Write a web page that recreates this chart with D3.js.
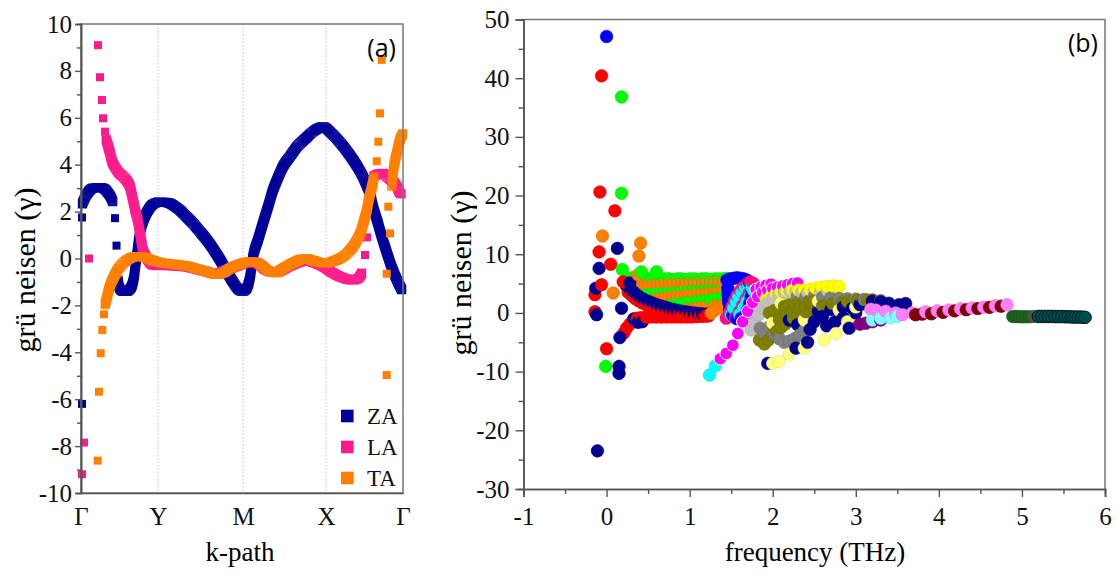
<!DOCTYPE html>
<html>
<head>
<meta charset="utf-8">
<script src="https://cdn.jsdelivr.net/npm/d3@7"></script>
<style>
  body { margin: 0; background: #fff; }
  svg { display: block; }
  .serif { font-family: "Liberation Serif", "Times New Roman", serif; }
</style>
</head>
<body>
<svg id="chart" width="1119" height="577"></svg>
<script>
// ---------- Panel (a): Grüneisen parameter along the k-path ----------
const kTickPos = [0, 0.77, 1.62, 2.45, 3.22];
const kTickLabels = ["Γ", "Y", "M", "X", "Γ"];
const gammaTicksA = [-10, -8, -6, -4, -2, 0, 2, 4, 6, 8, 10];
const branchNames = ["ZA", "LA", "TA"];
const branchColors = ["#000099", "#ff1a8c", "#ff8000"];

// ZA: continuous stretches [k, γ]
const zaArcGamma = [[0.01,2.3],[0.03,2.5],[0.06,2.75],[0.09,2.92],[0.12,3.0],[0.16,3.02],[0.20,3.02],[0.24,2.95],[0.27,2.8],[0.30,2.6],[0.32,2.4]];
const zaYM = [[0.37,-0.9],[0.38,-1.2],[0.40,-1.35],[0.43,-1.4],[0.46,-1.4],[0.49,-1.3],[0.51,-1.15],[0.53,-0.8],[0.545,-0.3],[0.56,0.2],[0.575,0.7],[0.59,1.1],[0.61,1.45],[0.64,1.8],[0.67,2.05],[0.71,2.28],[0.75,2.38],[0.79,2.42],[0.84,2.4],[0.89,2.35],[0.94,2.22],[0.99,2.06],[1.05,1.8],[1.12,1.5],[1.19,1.15],[1.26,0.78],[1.33,0.36],[1.39,-0.05],[1.45,-0.5],[1.52,-1.0],[1.57,-1.3],[1.62,-1.4],[1.66,-1.25],[1.69,-0.8],[1.72,0.08],[1.77,0.8],[1.82,1.51],[1.87,2.2],[1.92,2.92],[1.97,3.45],[2.02,3.92],[2.09,4.35],[2.16,4.77],[2.24,5.1],[2.32,5.41],[2.37,5.55],[2.42,5.62],[2.49,5.4],[2.59,4.95],[2.69,4.4],[2.76,3.95],[2.82,3.49],[2.87,3.0],[2.89,2.79],[2.92,2.2],[2.96,1.64],[3.01,0.9],[3.06,0.23],[3.11,-0.4],[3.16,-0.92],[3.21,-1.35]];
const zaSingles = [[0.01,1.75],[0.01,-6.2],[0.34,1.72],[0.355,0.55]];

// LA
const laGammaSide = [[0.25,5.1],[0.27,4.8],[0.29,4.5],[0.31,4.15],[0.34,3.9],[0.38,3.65],[0.42,3.5],[0.46,3.3],[0.49,3.06],[0.52,2.5],[0.545,2.0],[0.56,1.78],[0.59,1.08],[0.62,0.36],[0.67,-0.06],[0.72,-0.28],[0.78,-0.3],[0.85,-0.3],[0.95,-0.33],[1.05,-0.36],[1.15,-0.45],[1.25,-0.55],[1.35,-0.66],[1.45,-0.5],[1.55,-0.34],[1.65,-0.2],[1.75,-0.2],[1.85,-0.5],[1.95,-0.6],[2.05,-0.4],[2.15,-0.2],[2.25,-0.1],[2.35,-0.2],[2.45,-0.42],[2.52,-0.62],[2.59,-0.78],[2.66,-0.88],[2.72,-0.92],[2.78,-0.82],[2.81,-0.6]];
const laXGamma = [[2.92,3.49],[2.97,3.6],[3.02,3.63],[3.07,3.45],[3.12,3.28],[3.16,3.06],[3.19,2.79],[3.21,2.75]];
const laSingles = [[0.01,-9.2],[0.03,-7.85],[0.08,0.0],[0.17,9.1],[0.19,7.73],[0.21,6.76],[0.22,5.98],[0.24,5.41],[2.84,0.15],[2.86,0.9]];

// TA
const taMain = [[0.24,-2.0],[0.26,-1.65],[0.28,-1.3],[0.30,-1.05],[0.33,-0.78],[0.36,-0.52],[0.40,-0.3],[0.45,-0.1],[0.50,0.03],[0.55,0.08],[0.60,0.08],[0.65,0.02],[0.70,-0.06],[0.76,-0.14],[0.83,-0.2],[0.90,-0.23],[0.98,-0.27],[1.06,-0.32],[1.14,-0.42],[1.22,-0.52],[1.30,-0.62],[1.36,-0.68],[1.42,-0.62],[1.49,-0.42],[1.55,-0.3],[1.62,-0.2],[1.69,-0.13],[1.76,-0.16],[1.82,-0.35],[1.88,-0.55],[1.95,-0.6],[2.01,-0.45],[2.07,-0.3],[2.13,-0.16],[2.19,-0.05],[2.26,0.0],[2.31,-0.08],[2.37,-0.15],[2.43,-0.2],[2.49,-0.16],[2.56,-0.06],[2.62,0.08],[2.66,0.22],[2.71,0.45],[2.76,0.79],[2.80,1.15],[2.83,1.6],[2.86,2.1],[2.88,2.55],[2.91,3.06],[2.93,3.5]];
const taGammaEnd = [[3.107,3.06],[3.12,3.63],[3.157,4.48],[3.19,5.05],[3.22,5.34]];
const taSingles = [[0.167,-8.62],[0.18,-5.68],[0.197,-4.04],[0.213,-3.05],[0.23,-2.38],[3.007,8.47],[2.99,6.19],[2.973,4.98],[2.957,4.15],[3.073,2.21],[3.09,1.07],[3.057,-0.65],[3.057,-4.97]];

// ---------- Panel (b): Grüneisen parameter vs frequency [THz, γ] ----------
const freqTicks = [-1, 0, 1, 2, 3, 4, 5, 6];
const gammaTicksB = [-30, -20, -10, 0, 10, 20, 30, 40, 50];

const greenTop = [[0.30,6.0],[0.35,5.9],[0.40,5.9],[0.45,5.8],[0.50,5.8],[0.55,5.8],[0.60,5.9],[0.65,5.8],[0.70,5.8],[0.75,5.8],[0.80,5.7],[0.85,5.8],[0.90,5.8],[0.95,5.7],[1.00,5.8],[1.05,5.8],[1.10,5.7],[1.15,5.8],[1.20,5.8],[1.25,5.7],[1.30,5.8],[1.35,5.8],[1.40,5.8],[1.45,5.9]];
const orangeUp = [[0.36,4.9],[0.41,4.9],[0.46,4.9],[0.51,4.95],[0.56,5.0],[0.61,5.0],[0.66,5.05],[0.71,5.05],[0.76,5.1],[0.81,5.1],[0.86,5.1],[0.91,5.15],[0.96,5.15],[1.01,5.2],[1.06,5.2],[1.11,5.25],[1.16,5.25],[1.21,5.3],[1.26,5.3],[1.31,5.35],[1.36,5.35],[1.41,5.4]];
const greenMid = [[0.45,3.4],[0.50,3.5],[0.55,3.6],[0.60,3.7],[0.65,3.8],[0.70,3.9],[0.75,3.95],[0.80,4.0],[0.85,4.1],[0.90,4.15],[0.95,4.2],[1.00,4.3],[1.05,4.35],[1.10,4.4],[1.15,4.45],[1.20,4.5],[1.25,4.55],[1.30,4.6],[1.35,4.65],[1.40,4.7]];
const orangeLow = [[0.60,2.4],[0.65,2.5],[0.70,2.6],[0.75,2.7],[0.80,2.8],[0.85,2.9],[0.90,3.0],[0.95,3.05],[1.00,3.1],[1.05,3.2],[1.10,3.25],[1.15,3.3],[1.20,3.4],[1.25,3.45],[1.30,3.5],[1.35,3.6],[1.40,3.65]];
const greenLow = [[0.80,1.5],[0.85,1.6],[0.90,1.7],[0.95,1.8],[1.00,1.9],[1.05,2.0],[1.10,2.1],[1.15,2.2],[1.20,2.3],[1.25,2.4],[1.30,2.5],[1.35,2.6],[1.40,2.7]];
const orangeBase = [[1.00,0.8],[1.05,0.9],[1.10,1.0],[1.15,1.05],[1.20,1.1],[1.26,0.3],[1.30,1.2],[1.32,0.6],[1.35,1.3],[1.38,1.0],[1.42,1.5]];

const navyDiag = [[0.24,4.6],[0.28,4.1],[0.32,3.6],[0.36,3.1],[0.40,2.7],[0.45,2.3],[0.50,2.0],[0.55,1.7],[0.60,1.45],[0.65,1.2],[0.70,1.0],[0.75,0.8],[0.80,0.6],[0.85,0.45],[0.90,0.3],[0.95,0.2],[1.00,0.1],[1.05,0.0],[1.10,-0.1],[1.15,-0.15],[1.20,-0.2]];
const navyLower = [[0.33,-1.0],[0.38,-1.6],[0.43,-1.5]];
const redDiag = [[0.26,3.5],[0.30,3.0],[0.34,2.5],[0.38,2.1],[0.43,1.7],[0.48,1.35],[0.53,1.05],[0.58,0.8],[0.63,0.55],[0.68,0.35],[0.73,0.2],[0.78,0.05],[0.83,-0.05],[0.88,-0.15],[0.93,-0.2],[0.98,-0.3],[1.03,-0.35],[1.08,-0.4],[1.13,-0.45],[1.18,-0.5],[1.23,-0.5]];
const redFlat = [[0.21,-3.4],[0.24,-2.6],[0.28,-1.9],[0.32,-1.3],[0.37,-0.9],[0.42,-0.8],[0.48,-0.75],[0.54,-0.7],[0.60,-0.7],[0.66,-0.7],[0.72,-0.7],[0.78,-0.7],[0.84,-0.7],[0.90,-0.7],[0.96,-0.7],[1.02,-0.7],[1.08,-0.65],[1.14,-0.6],[1.20,-0.55]];

const blueB = [[1.45,5.6],[1.49,5.8],[1.53,5.9],[1.57,6.0],[1.61,5.9],[1.65,5.8],[1.69,5.6],[1.72,5.2],[1.46,4.2],[1.46,3.2],[1.47,2.4],[1.47,1.8],[1.48,0.6],[1.52,-0.4],[1.57,-1.0],[1.62,-0.9],[1.67,-0.4],[1.70,0.5],[1.72,1.6],[1.74,2.8],[1.75,3.8]];
const deepPinkB = [[1.44,-0.9],[1.48,0.1],[1.51,1.1],[1.54,2.1],[1.57,3.0],[1.61,3.8],[1.65,4.5],[1.69,5.0],[1.73,5.3],[1.77,5.0],[1.55,-0.8],[1.60,0.2],[1.64,1.3],[1.68,2.4],[1.72,3.4]];
const cyanB = [[1.24,-10.6],[1.31,-9.0],[1.50,-0.3],[1.53,0.8],[1.56,1.8],[1.59,2.7],[1.63,3.5],[1.67,4.2],[1.71,4.6],[1.75,4.3],[1.60,-0.3],[1.65,0.8],[1.69,1.9],[1.73,2.9],[1.77,3.8]];

const magentaB = [[1.37,-7.8],[1.44,-6.9],[1.52,-5.5],[1.58,-3.5],[1.64,-1.5],[1.70,0.3],[1.76,1.8],[1.82,2.8],[1.88,3.5],[1.94,3.9],[2.00,4.2],[2.06,4.4],[2.12,4.6],[2.18,4.8],[2.24,5.0],[2.30,5.1],[1.80,4.0],[1.86,4.4],[1.92,4.7],[1.98,4.9]];
const silverB = [[1.74,-2.9],[1.78,-1.6],[1.83,-0.3],[1.88,0.8],[1.94,1.8],[2.00,2.5],[2.07,3.1],[2.14,3.5],[2.21,3.7],[2.28,3.6],[2.35,3.5],[2.42,3.5],[2.50,3.6],[2.58,3.7],[2.66,3.8]];
const yellowB = [[1.92,2.4],[1.98,2.9],[2.04,3.3],[2.10,3.6],[2.17,3.8],[2.24,3.9],[2.31,3.9],[2.38,3.9],[2.45,4.0],[2.52,4.2],[2.59,4.4],[2.66,4.5],[2.73,4.6],[2.80,4.5]];
const grayB = [[1.85,-2.6],[1.90,-3.6],[1.96,-2.4],[2.02,-3.6],[2.08,-4.4],[2.14,-5.0],[2.20,-4.8],[2.26,-4.4],[2.32,-3.8],[2.38,-3.0],[2.30,2.9],[2.40,2.8],[2.50,2.75],[2.60,2.7],[2.70,2.6],[2.80,2.5],[2.90,2.4],[3.00,2.35],[3.10,2.3],[3.20,2.2],[3.30,2.1]];
const oliveB = [[1.84,-4.6],[1.90,-5.3],[1.95,-4.6],[2.00,-3.8],[2.05,-3.1],[2.10,-2.5],[2.15,-1.9],[2.20,-1.4],[2.25,-0.9],[2.30,-0.5],[2.35,-0.1],[2.40,0.2],[2.45,0.5],[2.50,0.8],[2.55,1.0],[2.60,1.2],[2.66,1.4],[2.72,1.6],[2.78,1.7],[2.84,1.85],[2.90,1.95],[2.96,2.0],[3.02,2.1],[3.08,2.15],[3.14,2.2],[3.20,2.2],[1.96,0.0],[2.02,0.4],[2.08,0.8],[2.14,1.1],[2.20,1.4],[2.26,1.6],[2.32,1.8],[2.38,1.95],[2.44,2.05],[2.50,2.1],[2.00,-2.0],[2.08,-1.2],[2.16,-0.5],[2.24,0.1],[2.32,0.6],[2.40,1.0],[2.48,1.3]];
const navyMid = [[1.94,-8.6],[2.28,-6.0],[2.42,-5.0],[2.20,-1.2],[2.30,-2.0],[2.45,-2.8],[2.50,-1.5],[2.60,-0.6],[2.65,-2.2],[2.75,-1.5],[2.85,-0.8],[2.92,-2.6],[3.00,0.0],[2.55,0.3],[2.70,0.6],[2.85,1.0],[2.96,0.8],[3.05,1.4],[3.08,1.6],[3.20,2.0],[3.30,1.9],[3.40,1.65],[3.52,1.4],[3.60,1.6]];
const lightYellowB = [[2.00,-8.6],[2.08,-8.3],[2.20,-7.0],[2.38,-6.0],[2.62,-4.6],[2.76,-3.5],[2.00,-1.75],[2.38,-1.2],[2.90,-1.5],[2.80,0.5],[3.00,1.0],[2.10,1.65],[2.55,2.0]];

const purpleB = [[3.05,-1.9],[3.12,-1.75],[3.20,-1.5],[3.30,-1.2]];
const lightCyanB = [[3.20,-1.2],[3.30,-0.9],[3.42,-0.8],[3.50,-0.6]];
const violetB = [[3.18,0.6],[3.24,0.5],[3.36,0.3],[3.48,0.0],[3.56,-0.3],[3.68,0.0],[3.84,0.2],[3.98,0.35],[4.12,0.5],[4.26,0.7],[4.40,0.85],[4.54,1.0],[4.68,1.2],[4.82,1.4]];
const darkRedB = [[3.72,-0.3],[3.80,-0.2],[3.91,-0.15],[4.05,0.1],[4.19,0.35],[4.33,0.55],[4.47,0.75],[4.61,0.95],[4.75,1.15]];

const darkGreenB = [[4.89,-0.6],[4.93,-0.6],[4.97,-0.65],[5.01,-0.65],[5.05,-0.65],[5.09,-0.65]];
const darkGrayB = [[5.14,-0.6]];
const tealB = [[5.20,-0.6],[5.24,-0.6],[5.28,-0.6],[5.32,-0.6],[5.36,-0.6],[5.40,-0.62],[5.44,-0.62],[5.48,-0.62],[5.52,-0.65],[5.56,-0.65],[5.60,-0.68],[5.64,-0.7],[5.68,-0.7],[5.72,-0.72],[5.76,-0.75]];

const navyOut = [[-0.09,7.6],[-0.13,4.2],[-0.12,-0.3],[0.13,11.0],[0.16,-4.2],[0.15,-9.1],[0.15,-10.3],[-0.11,-23.5],[0.18,0.8],[0.28,5.1]];
const redOut = [[-0.06,40.4],[-0.08,20.6],[0.10,17.4],[-0.09,10.4],[0.05,8.3],[-0.06,4.8],[-0.14,3.1],[-0.14,0.2],[0.00,-6.1],[0.20,5.3]];
const greenOut = [[0.18,36.8],[0.18,20.4],[0.19,7.4],[-0.01,-9.1],[0.42,7.0],[0.60,7.0]];
const orangeOut = [[-0.05,13.1],[0.41,11.9],[0.39,9.7],[0.08,3.4],[0.38,6.5],[1.26,-0.05]];
const blueOut = [[0.00,47.1]];

// series table: colour and drawing layer (points in one layer are drawn in order of frequency)
const seriesB = [
  {pts: greenTop, color: "#00ff00", layer: 0},
  {pts: orangeUp, color: "#ff8000", layer: 0},
  {pts: greenMid, color: "#00ff00", layer: 0},
  {pts: orangeLow, color: "#ff8000", layer: 0},
  {pts: greenLow, color: "#00ff00", layer: 0},
  {pts: orangeBase, color: "#ff8000", layer: 0},
  {pts: navyDiag, color: "#000090", layer: 1},
  {pts: navyLower, color: "#000090", layer: 1},
  {pts: redDiag, color: "#ff0000", layer: 1},
  {pts: redFlat, color: "#ff0000", layer: 1},
  {pts: blueB, color: "#0000ff", layer: 2},
  {pts: deepPinkB, color: "#ff1080", layer: 2},
  {pts: cyanB, color: "#00ffff", layer: 2},
  {pts: magentaB, color: "#ff00ff", layer: 3, edge: "#ffffff"},
  {pts: silverB, color: "#c0c0c0", layer: 3},
  {pts: yellowB, color: "#ffff00", layer: 3},
  {pts: grayB, color: "#808080", layer: 3},
  {pts: oliveB, color: "#808000", layer: 3},
  {pts: navyMid, color: "#000090", layer: 3},
  {pts: lightYellowB, color: "#ffff80", layer: 3},
  {pts: purpleB, color: "#800080", layer: 4},
  {pts: lightCyanB, color: "#80ffff", layer: 4},
  {pts: violetB, color: "#ff80ff", layer: 4},
  {pts: darkRedB, color: "#800000", layer: 4},
  {pts: darkGreenB, color: "#1f5f1f", layer: 5},
  {pts: darkGrayB, color: "#505050", layer: 5},
  {pts: tealB, color: "#004d4d", layer: 5, edge: "#001a1a"},
  {pts: navyOut, color: "#000090", layer: 6},
  {pts: redOut, color: "#ff0000", layer: 6},
  {pts: greenOut, color: "#00ff00", layer: 6},
  {pts: orangeOut, color: "#ff8000", layer: 6},
  {pts: blueOut, color: "#0000ff", layer: 6}
];

// ---------- drawing ----------
const svg = d3.select("#chart");
const serif = "Liberation Serif, Times New Roman, serif";
const axisColor = "#555";

// square-kernel dilation: a thin line becomes a band of overlapping square markers
svg.append("defs").append("filter")
  .attr("id", "squareSweep")
  .attr("filterUnits", "userSpaceOnUse")
  .attr("x", 0).attr("y", 0).attr("width", 1119).attr("height", 577)
  .append("feMorphology").attr("operator", "dilate").attr("radius", 3.6);

// ===== panel (a) =====
const xa = d3.scaleLinear().domain([0, 3.22]).range([81, 403]);
const ya = d3.scaleLinear().domain([-10, 10]).range([493, 24]);
const ga = svg.append("g");

ga.selectAll("line.sym").data(kTickPos.slice(1, -1)).join("line")
  .attr("class", "sym")
  .attr("x1", d => xa(d)).attr("x2", d => xa(d))
  .attr("y1", ya(10)).attr("y2", ya(-10))
  .attr("stroke", "#c4c4c4").attr("stroke-width", 1).attr("stroke-dasharray", "1.5,2");

const lineA = d3.line().x(d => xa(d[0])).y(d => ya(d[1])).curve(d3.curveMonotoneX);

function drawBranch(curves, singles, color) {
  const g = ga.append("g").attr("filter", "url(#squareSweep)");
  g.selectAll("path").data(curves).join("path")
    .attr("d", lineA).attr("fill", "none").attr("stroke", color).attr("stroke-width", 1.2);
  ga.append("g").selectAll("rect").data(singles).join("rect")
    .attr("x", d => xa(d[0]) - 4).attr("y", d => ya(d[1]) - 4)
    .attr("width", 8).attr("height", 8).attr("fill", color);
}
drawBranch([zaArcGamma, zaYM], zaSingles, branchColors[0]);
drawBranch([laGammaSide, laXGamma], laSingles, branchColors[1]);
drawBranch([taMain, taGammaEnd], taSingles, branchColors[2]);

// frame
ga.append("rect").attr("x", xa(0)).attr("y", ya(10))
  .attr("width", xa(3.22) - xa(0)).attr("height", ya(-10) - ya(10))
  .attr("fill", "none").attr("stroke", "#777").attr("stroke-width", 1.5);

// y axis (a)
ga.append("g").attr("transform", `translate(${xa(0)},0)`)
  .call(d3.axisLeft(ya).tickValues(gammaTicksA).tickSize(6).tickPadding(3).tickFormat(d => String(d)));
ga.append("g").attr("transform", `translate(${xa(0)},0)`)
  .call(d3.axisLeft(ya).tickValues(d3.range(-9, 10, 2)).tickSize(4).tickFormat(""));
// x axis (a)
ga.append("g").attr("transform", `translate(0,${ya(-10)})`)
  .call(d3.axisBottom(xa).tickValues(kTickPos).tickSize(0).tickPadding(14).tickFormat((d, i) => kTickLabels[i]));

// legend
const legend = ga.append("g");
branchNames.forEach((name, i) => {
  const cy = 416 + i * 31;
  legend.append("rect").attr("x", 341).attr("y", cy - 6.3).attr("width", 12.6).attr("height", 12.6).attr("fill", branchColors[i]);
  legend.append("text").attr("class", "serif").attr("x", 367).attr("y", cy + 7.5).text(name)
    .style("font-size", "23px").attr("fill", "#111");
});

ga.append("text").attr("x", 396).attr("y", 57).attr("text-anchor", "end")
  .style("font-family", "Open Sans, sans-serif").style("font-size", "25px").text("(a)");

ga.append("text").attr("class", "serif").attr("transform", "translate(35,270) rotate(-90)").attr("text-anchor", "middle")
  .style("font-size", "30px").text("grü neisen (γ)");
ga.append("text").attr("class", "serif").attr("x", 240).attr("y", 561).attr("text-anchor", "middle")
  .style("font-size", "27px").text("k-path");

// ===== panel (b) =====
const xb = d3.scaleLinear().domain([-1, 6]).range([523.5, 1105]);
const yb = d3.scaleLinear().domain([-30, 50]).range([489, 19.5]);
const gb = svg.append("g");

const layers = d3.groups(
  seriesB.flatMap(s => s.pts.map(p => ({f: p[0], g: p[1], color: s.color, edge: s.edge, layer: s.layer}))),
  d => d.layer
).sort((a, b) => a[0] - b[0]);

layers.forEach(([layer, pts]) => {
  const sorted = pts.slice().sort((a, b) => a.f - b.f);
  gb.append("g").selectAll("circle").data(sorted).join("circle")
    .attr("cx", d => xb(d.f)).attr("cy", d => yb(d.g)).attr("r", 6.3)
    .attr("fill", d => d.color)
    .attr("stroke", d => d.edge || d3.color(d.color).darker(0.4))
    .attr("stroke-width", d => d.edge ? 1 : 0.6);
});

// frame top/right
gb.append("path")
  .attr("d", `M${xb(-1)},${yb(50)}H${xb(6)}V${yb(-30)}`)
  .attr("fill", "none").attr("stroke", "#777").attr("stroke-width", 1.5);

gb.append("g").attr("transform", `translate(${xb(-1)},0)`)
  .call(d3.axisLeft(yb).tickValues(gammaTicksB).tickSize(8).tickPadding(6).tickFormat(d => String(d)));
gb.append("g").attr("transform", `translate(${xb(-1)},0)`)
  .call(d3.axisLeft(yb).tickValues(d3.range(-25, 50, 10)).tickSize(5).tickFormat(""));
gb.append("g").attr("transform", `translate(0,${yb(-30)})`)
  .call(d3.axisBottom(xb).tickValues(freqTicks).tickSize(8).tickPadding(10).tickFormat(d => String(d)));
gb.append("g").attr("transform", `translate(0,${yb(-30)})`)
  .call(d3.axisBottom(xb).tickValues(d3.range(-0.5, 6, 1)).tickSize(5).tickFormat(""));

gb.append("text").attr("x", 1098).attr("y", 52).attr("text-anchor", "end")
  .style("font-family", "Open Sans, sans-serif").style("font-size", "25px").text("(b)");
gb.append("text").attr("class", "serif").attr("transform", "translate(471,273) rotate(-90)").attr("text-anchor", "middle")
  .style("font-size", "30px").text("grü neisen (γ)");
gb.append("text").attr("class", "serif").attr("x", 815).attr("y", 561).attr("text-anchor", "middle")
  .style("font-size", "27px").text("frequency (THz)");

// shared axis styling
svg.selectAll(".domain").attr("stroke", axisColor).attr("stroke-width", 1.6);
svg.selectAll(".tick line").attr("stroke", axisColor).attr("stroke-width", 1.4);
svg.selectAll(".tick text")
  .style("font-family", serif).style("font-size", "25px").attr("fill", "#111");
</script>
</body>
</html>
